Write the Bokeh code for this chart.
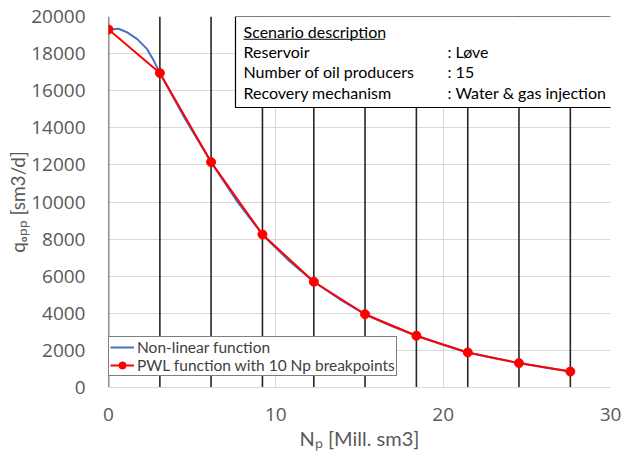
from bokeh.plotting import figure
from bokeh.models import BoxAnnotation, Label, Legend, LegendItem, FixedTicker, Range1d, Title
from bokeh.embed import file_html
from bokeh.resources import INLINE

# ---- data ----
bp_x = [0, 3.07, 6.13, 9.2, 12.27, 15.33, 18.4, 21.47, 24.53, 27.6]
bp_y = [19300, 16950, 12150, 8250, 5700, 3950, 2790, 1890, 1315, 860]

nl_x = [0, 0.6, 1.12, 1.72, 2.31, 2.71, 3.07, 4.6, 6.13, 7.67, 9.2, 10.73, 12.27,
        13.8, 15.33, 16.87, 18.4, 19.93, 21.47, 23.0, 24.53, 26.07, 27.6]
nl_y = [19300, 19340, 19140, 18780, 18240, 17610, 16950, 14450, 12150, 10050, 8250,
        6880, 5700, 4770, 3950, 3330, 2790, 2310, 1890, 1585, 1315, 1075, 860]

x_ticks = [0, 10, 20, 30]
y_ticks = list(range(0, 20001, 2000))

x_title = "Nₚ [Mill. sm3]"
y_title = "qₒₚₚ [sm3/d]"
desc_title = "Scenario description"
desc_keys = ["Reservoir", "Number of oil producers", "Recovery mechanism"]
desc_vals = [": Løve", ": 15", ": Water & gas injection"]

FONT = "Lato"
TICKFONT = "Open Sans"
GRAY = "#595959"

p = figure(width=622, height=454, output_backend="svg", toolbar_location=None,
           x_range=Range1d(0, 30), y_range=Range1d(0, 20000),
           min_border_left=108, min_border_right=12, min_border_top=16, min_border_bottom=67)
p.outline_line_color = None

# grids
p.xgrid.ticker = FixedTicker(ticks=x_ticks)
p.ygrid.ticker = FixedTicker(ticks=y_ticks)
p.grid.grid_line_color = "#d9d9d9"
p.grid.grid_line_width = 1

# axes
p.xaxis.ticker = FixedTicker(ticks=x_ticks)
p.yaxis.ticker = FixedTicker(ticks=y_ticks)
for ax in (p.xaxis, p.yaxis):
    ax.major_tick_in = 0
    ax.major_tick_out = 0
    ax.minor_tick_in = 0
    ax.minor_tick_out = 0
    ax.major_label_text_font = TICKFONT
    ax.major_label_text_font_size = "19px"
    ax.major_label_text_color = GRAY
    ax.axis_label_text_font = FONT
    ax.axis_label_text_font_size = "20px"
    ax.axis_label_text_color = GRAY
    ax.axis_label_text_font_style = "normal"
    ax.axis_label_standoff = 2
p.xaxis.major_label_standoff = 20
p.yaxis.major_label_standoff = 23
p.xaxis.axis_line_color = "#d9d9d9"
p.yaxis.axis_line_color = None
p.xaxis.axis_label = x_title

# y-axis title as a left-side title panel
ytitle = Title(text=y_title, align="center", text_font=FONT, text_font_size="19px",
               text_color=GRAY, text_font_style="normal", standoff=0, offset=0)
p.add_layout(ytitle, "left")

# breakpoint vertical lines
y0 = p.y_range.start
y1 = p.y_range.end
p.segment(x0=bp_x, y0=[y0] * len(bp_x), x1=bp_x, y1=[y1] * len(bp_x),
          line_color="#262626", line_width=1.6)

# curves
r_nl = p.line(nl_x, nl_y, line_color="#4472C4", line_width=2)
r_pwl = p.line(bp_x, bp_y, line_color="#FF0000", line_width=2)
r_pts = p.scatter(bp_x, bp_y, size=9, fill_color="#FF0000", line_color="#FF0000")

# scenario description box
box = BoxAnnotation(left=7.59, right=30.1, top=20000, bottom=15094,
                    fill_color="white", fill_alpha=1.0, line_color="black", line_width=1.2,
                    line_alpha=1.0)
p.add_layout(box)

row_y = [18097, 17019, 15887]
p.add_layout(Label(x=8.07, y=19175, text=desc_title, text_baseline="middle",
                   text_font=FONT, text_font_size="16px", text_color="black"))
p.add_layout(BoxAnnotation(left=8.07, right=16.5, top=18800, bottom=18746,
                           fill_color="black", fill_alpha=1.0, line_color=None))
for k, v, yy in zip(desc_keys, desc_vals, row_y):
    p.add_layout(Label(x=8.07, y=yy, text=k, text_baseline="middle",
                       text_font=FONT, text_font_size="16px", text_color="black"))
    p.add_layout(Label(x=20.26, y=yy, text=v, text_baseline="middle",
                       text_font=FONT, text_font_size="16px", text_color="black"))

legend = Legend(items=[
    LegendItem(label="Non-linear function", renderers=[r_nl]),
    LegendItem(label="PWL function with 10 Np breakpoints", renderers=[r_pwl, r_pts]),
], location=(0, 11))
legend.border_line_color = "black"
legend.border_line_width = 1
legend.background_fill_alpha = 1.0
legend.label_text_font = FONT
legend.label_text_font_size = "15.5px"
legend.label_text_color = "#404040"
legend.padding = 1
legend.spacing = 0
legend.margin = 0
legend.glyph_width = 24
legend.glyph_height = 18
legend.label_height = 18
legend.label_standoff = 3
p.add_layout(legend)

open("out.html", "w").write(file_html(p, INLINE))
